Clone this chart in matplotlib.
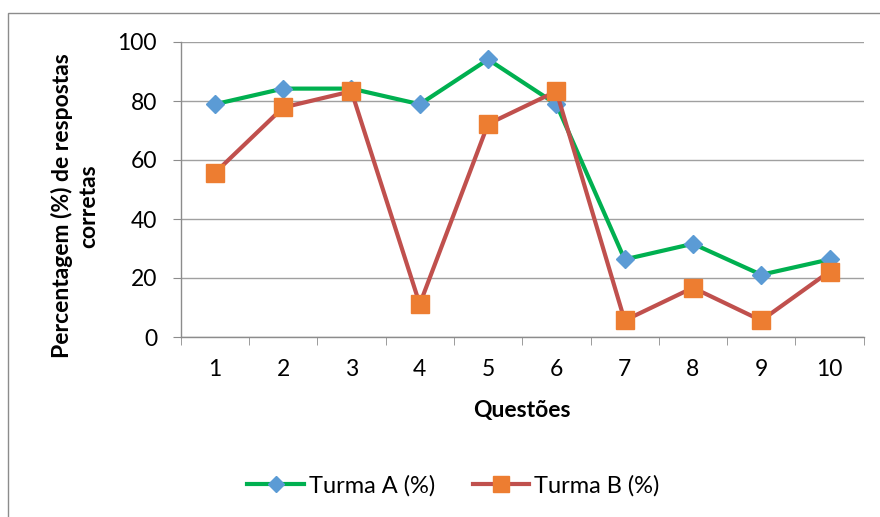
import matplotlib.pyplot as plt
from matplotlib.patches import Rectangle

questoes = ['1', '2', '3', '4', '5', '6', '7', '8', '9', '10']
turma_a = [78.9, 84.2, 84.2, 78.9, 94.1, 78.9, 26.3, 31.6, 21.1, 26.3]
turma_b = [55.6, 77.8, 83.3, 11.1, 72.2, 83.3, 5.6, 16.7, 5.6, 22.2]

plt.rcParams['font.family'] = ['Lato', 'DejaVu Sans']

W, H = 880, 517
fig = plt.figure(figsize=(W / 100, H / 100), dpi=100)
ax = fig.add_axes([180.7 / W, 1 - 337 / H, 683 / W, 295 / H])

# chart frame
fig.add_artist(Rectangle((8 / W, -0.1), 1.2, 1.1 - 13 / H, transform=fig.transFigure,
                         fill=False, edgecolor='#8c8c8c', linewidth=1.0))

x = list(range(1, len(questoes) + 1))
ax.plot(x, turma_a, color='#00B050', linewidth=3.0, marker='D', markersize=9,
        markerfacecolor='#5B9BD5', markeredgecolor='#5B9BD5', label='Turma A (%)', zorder=3)
ax.plot(x, turma_b, color='#C0504D', linewidth=3.0, marker='s', markersize=13.5,
        markerfacecolor='#ED7D31', markeredgecolor='#ED7D31', label='Turma B (%)', zorder=4)

ax.set_xlim(0.5, 10.5)
ax.set_ylim(0, 100)
ax.set_yticks(range(0, 101, 20))
ax.set_xticks(x)
ax.set_xticklabels(questoes)
ax.set_xticks([i + 0.5 for i in range(0, 11)], minor=True)

ax.grid(axis='y', color='#a0a0a0', linewidth=1.0, zorder=0)
ax.set_axisbelow(True)
for s in ['top', 'right']:
    ax.spines[s].set_visible(False)
for s in ['left', 'bottom']:
    ax.spines[s].set_color('#8c8c8c')
    ax.spines[s].set_linewidth(1.0)

ax.tick_params(axis='y', length=6, color='#8c8c8c', labelsize=16.5, pad=11)
ax.tick_params(axis='x', which='major', length=0, labelsize=16.5, pad=16)
ax.tick_params(axis='x', which='minor', length=6, color='#8c8c8c')

fig.text(75 / W, 1 - 206 / H, 'Percentagem (%) de respostas\ncorretas', rotation=90,
         ha='center', va='center', multialignment='center', fontsize=16.5, fontweight='bold',
         linespacing=1.3)
fig.text(522 / W, 1 - 411 / H, 'Questões', ha='center', va='center',
         fontsize=16.5, fontweight='bold')

fig.legend(loc='center', bbox_to_anchor=(453.5 / W, 1 - 486 / H), ncol=2, frameon=False,
           fontsize=17, handlelength=2.4, handletextpad=0.2, columnspacing=1.6,
           markerscale=0.9)

fig.savefig('out.png', dpi=100)
